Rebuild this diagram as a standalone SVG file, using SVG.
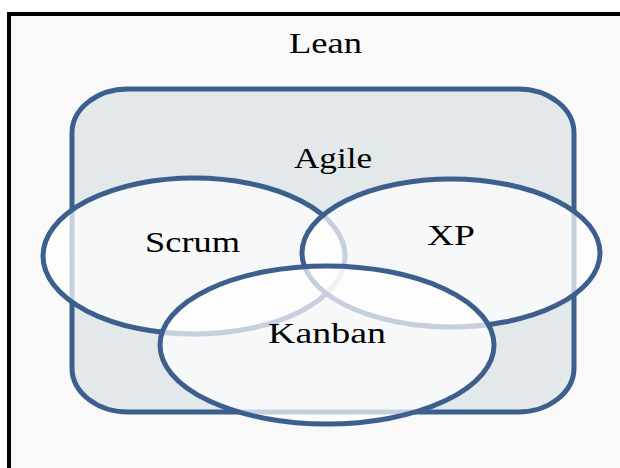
<svg xmlns="http://www.w3.org/2000/svg" width="620" height="468" viewBox="0 0 620 468">
<style>
.lbl{font-family:"Liberation Serif","Times New Roman",serif;font-size:30px;fill:#000}
.set{stroke:#3c5f8d;stroke-width:5}
.ell{fill:#ffffff;fill-opacity:0.7}
</style>
<rect x="0" y="0" width="620" height="468" fill="#ffffff"/>
<g id="lean">
<rect x="9" y="14" width="660" height="520" fill="#f9f9f9" stroke="#000" stroke-width="4"/>
<text class="lbl" x="289" y="53" textLength="73" lengthAdjust="spacingAndGlyphs">Lean</text>
</g>
<g id="agile">
<rect class="set" x="72" y="89" width="502" height="323" rx="56" ry="44" fill="#e3e8eb"/>
<text class="lbl" x="294" y="168" textLength="78" lengthAdjust="spacingAndGlyphs">Agile</text>
</g>
<g id="scrum">
<ellipse class="set ell" cx="194" cy="256" rx="151" ry="78"/>
</g>
<g id="xp">
<ellipse class="set ell" cx="451" cy="253" rx="149" ry="74"/>
</g>
<g id="kanban">
<ellipse class="set ell" cx="327" cy="345" rx="167" ry="79"/>
</g>
<g id="labels">
<text class="lbl" x="145" y="252" textLength="95" lengthAdjust="spacingAndGlyphs">Scrum</text>
<text class="lbl" x="427" y="245" textLength="48" lengthAdjust="spacingAndGlyphs">XP</text>
<text class="lbl" x="268" y="343" textLength="118" lengthAdjust="spacingAndGlyphs">Kanban</text>
</g>
</svg>
